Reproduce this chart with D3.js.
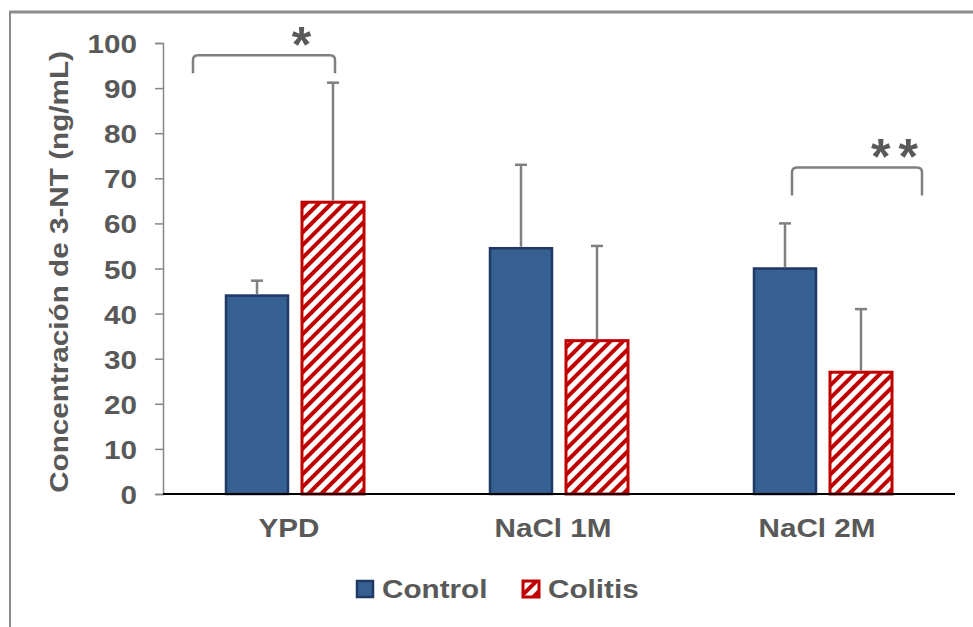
<!DOCTYPE html>
<html>
<head>
<meta charset="utf-8">
<script src="https://cdn.jsdelivr.net/npm/d3@7"></script>
<style>
  body { margin: 0; background: #fff; }
  svg { display: block; font-family: "Liberation Sans", Arial, sans-serif; font-weight: bold; }
</style>
</head>
<body>
<svg id="chart" width="973" height="627"></svg>
<script>
// data
const categories = ["YPD", "NaCl 1M", "NaCl 2M"];
const seriesNames = ["Control", "Colitis"];
const controlValues = [44, 54.5, 50];
const controlErrors = [3.3, 18.5, 10];
const colitisValues = [64.7, 34, 27];
const colitisErrors = [26.5, 21, 14];
const yTicks = [0, 10, 20, 30, 40, 50, 60, 70, 80, 90, 100];
const sigLabels = ["*", "", "* *"];   // significance per category

const svg = d3.select("#chart");
const textColor = "#595959";
const stretch = 1.12; // glyphs in the picture are a bit wider than plain Arial
const fontSize = 26.5;

const margin = { left: 163, right: 18, top: 43, bottom: 133 };
const W = 973, H = 627;

// frame
svg.append("line").attr("x1", 9).attr("x2", W).attr("y1", 12).attr("y2", 12)
  .attr("stroke", "#8c8c8c").attr("stroke-width", 3);
svg.append("line").attr("x1", 10).attr("x2", 10).attr("y1", 12).attr("y2", H)
  .attr("stroke", "#8c8c8c").attr("stroke-width", 2);

// hatch pattern for Colitis
const defs = svg.append("defs");
defs.append("pattern")
  .attr("id", "hatch")
  .attr("patternUnits", "userSpaceOnUse")
  .attr("width", 9).attr("height", 9)
  .attr("patternTransform", "rotate(45)")
  .call(p => {
    p.append("rect").attr("width", 9).attr("height", 9).attr("fill", "#fff");
    p.append("line").attr("x1", 2).attr("x2", 2).attr("y1", 0).attr("y2", 9)
      .attr("stroke", "#c00000").attr("stroke-width", 4);
  });

const x0 = d3.scaleBand().domain(categories).range([margin.left, W - margin.right]);
const groupW = 138;
const x1 = d3.scaleBand().domain(seriesNames)
  .range([(x0.bandwidth() - groupW) / 2, (x0.bandwidth() + groupW) / 2])
  .paddingInner(0.184);
const y = d3.scaleLinear().domain([0, 100]).range([H - margin.bottom, margin.top]);

function label(sel, tx, ty, rot) {
  return sel.attr("transform", `translate(${tx},${ty})` + (rot ? ` rotate(${rot})` : "") + ` scale(${stretch},1)`)
    .attr("fill", textColor).attr("font-size", fontSize);
}

// y axis
const yAxis = svg.append("g").attr("transform", `translate(${margin.left},0)`)
  .call(d3.axisLeft(y).tickValues(yTicks).tickSize(8).tickPadding(0).tickFormat(d3.format("d")));
yAxis.select(".domain").attr("stroke", "#868686").attr("stroke-width", 1.5);
yAxis.selectAll(".tick line").attr("stroke", "#868686").attr("stroke-width", 1.5);
yAxis.selectAll(".tick text").remove();
yAxis.selectAll(".tick").append("text")
  .attr("text-anchor", "end")
  .call(s => s.each(function() {
    d3.select(this).call(label, -26, 9.5);
  }))
  .text(d => d);

// y title
svg.append("text").attr("text-anchor", "middle")
  .call(label, 68, 272, -90)
  .text("Concentración de 3-NT (ng/mL)");

const rows = categories.map((c, i) => ({
  cat: c,
  bars: [
    { s: "Control", v: controlValues[i], e: controlErrors[i] },
    { s: "Colitis", v: colitisValues[i], e: colitisErrors[i] }
  ]
}));

const groups = svg.append("g").selectAll("g").data(rows).join("g")
  .attr("transform", d => `translate(${x0(d.cat)},0)`);

groups.selectAll("rect").data(d => d.bars).join("rect")
  .attr("x", d => x1(d.s))
  .attr("y", d => y(d.v))
  .attr("width", x1.bandwidth())
  .attr("height", d => y(0) - y(d.v))
  .attr("fill", d => d.s === "Control" ? "#376092" : "url(#hatch)")
  .attr("stroke", d => d.s === "Control" ? "#1f3864" : "#c00000")
  .attr("stroke-width", d => d.s === "Control" ? 2.5 : 3);

// error bars
const err = groups.selectAll("g.err").data(d => d.bars).join("g").attr("class", "err")
  .attr("stroke", "#7f7f7f").attr("stroke-width", 2.5);
err.append("line")
  .attr("x1", d => x1(d.s) + x1.bandwidth() / 2).attr("x2", d => x1(d.s) + x1.bandwidth() / 2)
  .attr("y1", d => y(d.v) - 1.5).attr("y2", d => y(d.v + d.e));
err.append("line")
  .attr("x1", d => x1(d.s) + x1.bandwidth() / 2 - 6).attr("x2", d => x1(d.s) + x1.bandwidth() / 2 + 6)
  .attr("y1", d => y(d.v + d.e)).attr("y2", d => y(d.v + d.e));

// x axis
svg.append("line")
  .attr("x1", margin.left).attr("x2", W - margin.right)
  .attr("y1", y(0)).attr("y2", y(0))
  .attr("stroke", "#000").attr("stroke-width", 2);

svg.append("g").selectAll("text").data(categories).join("text")
  .attr("text-anchor", "middle")
  .each(function(d) {
    d3.select(this).call(label, x0(d) + x0.bandwidth() / 2 - 6, 537);
  })
  .text(d => d);

// significance brackets (offsets from band start, level in data units)
const bracket = [
  { i: 0, left: 30, right: 172, top: 97.3, drop: 18, star: 35 },
  { i: 2, left: 101, right: 231, top: 72.4, drop: 28, star: 29 }
];
bracket.forEach(b => {
  const xl = x0(categories[b.i]) + b.left, xr = x0(categories[b.i]) + b.right;
  const yt = y(b.top), r = 5;
  const path = `M${xl},${yt + b.drop} V${yt + r} Q${xl},${yt} ${xl + r},${yt} H${xr - r} Q${xr},${yt} ${xr},${yt + r} V${yt + b.drop}`;
  svg.append("path").attr("d", path).attr("fill", "none")
    .attr("stroke", "#7f7f7f").attr("stroke-width", 2.5);
  svg.append("text").attr("text-anchor", "middle")
    .attr("x", xr - b.star).attr("y", yt + 7)
    .attr("fill", textColor).attr("font-size", 50)
    .attr("letter-spacing", -3)
    .text(sigLabels[b.i]);
});

// legend
const legend = svg.append("g").attr("transform", "translate(356,580)");
const items = legend.selectAll("g").data(seriesNames).join("g")
  .attr("transform", (d, i) => `translate(${i * 166},0)`);
items.append("rect").attr("x", 1).attr("y", 1).attr("width", 16).attr("height", 16)
  .attr("fill", d => d === "Control" ? "#376092" : "url(#hatch)")
  .attr("stroke", d => d === "Control" ? "#1f3864" : "#c00000")
  .attr("stroke-width", d => d === "Control" ? 2.5 : 3);
items.append("text").each(function() {
  d3.select(this).call(label, 26, 17.5);
}).text(d => d);
</script>
</body>
</html>
